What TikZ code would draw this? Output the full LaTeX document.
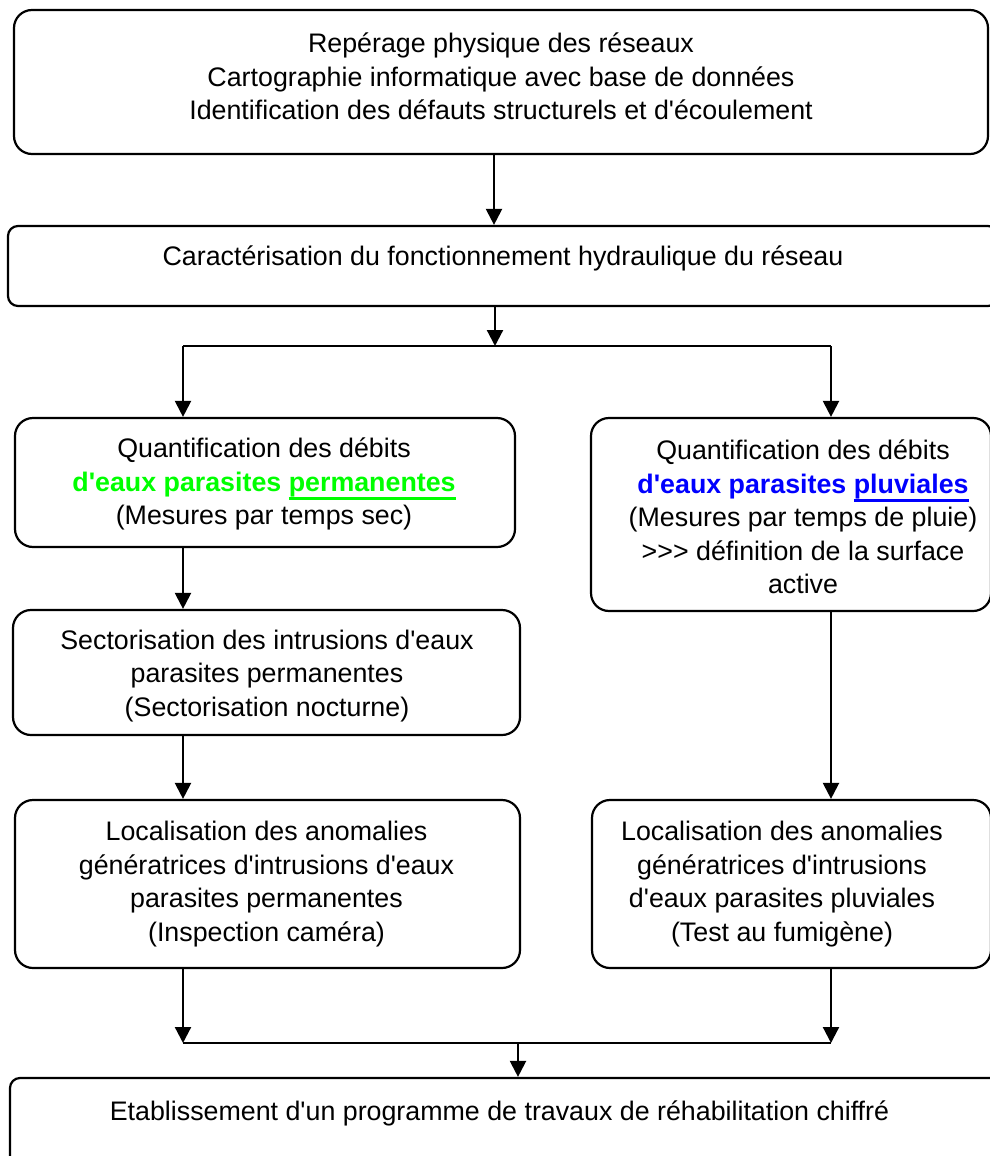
\documentclass[tikz,border=0pt]{standalone}
\usepackage{fontspec}
\setmainfont{Liberation Sans}
\usetikzlibrary{arrows.meta}
\definecolor{pgreen}{RGB}{0,255,0}
\definecolor{pblue}{RGB}{0,0,255}
\newcommand{\ap}{\textquotesingle}
\newcommand{\myul}[1]{\setbox0\hbox{#1}\rlap{\rule[-8.5pt]{\wd0}{2.4pt}}\box0}
\begin{document}
\begin{tikzpicture}[x=1pt,y=-1pt,
  box/.style={draw, line width=2.2pt, rounded corners=18pt, inner sep=0pt},
  sbox/.style={draw, line width=2.2pt, rounded corners=10pt, inner sep=0pt},
  txt/.style={align=center, font=\fontsize{26.8}{33.5}\selectfont, inner sep=0pt},
  arr/.style={line width=2.2pt, -{Triangle[length=16pt,width=16pt]}},
  ln/.style={line width=2.2pt}]
\useasboundingbox (0,0) rectangle (990,1156);
\clip (0,0) rectangle (990,1156);
% boxes
\node[box, minimum width=974pt, minimum height=144pt] (b1) at (501,82) {};
\node[sbox, minimum width=990pt, minimum height=80pt] (b2) at (503,266) {};
\node[box, minimum width=500pt, minimum height=129pt] (b3) at (265,482.5) {};
\node[box, minimum width=400pt, minimum height=193pt] (b4) at (791,514.5) {};
\node[box, minimum width=507pt, minimum height=125pt] (b5) at (266.5,672.5) {};
\node[box, minimum width=505pt, minimum height=168pt] (b6) at (267.5,884) {};
\node[box, minimum width=399pt, minimum height=168pt] (b7) at (791.5,884) {};
\node[sbox, minimum width=1000pt, minimum height=120pt] (b8) at (510,1138) {};
% texts
\node[txt] (t1) at (501,76.5) {Repérage physique des réseaux\\Cartographie informatique avec base de données\\Identification des défauts structurels et d\ap écoulement};
\node[txt] (t2) at (503,258) {Caractérisation du fonctionnement hydraulique du réseau};
\node[txt] (t3) at (264,484) {Quantification des débits\\{\color{pgreen}\bfseries d\ap eaux parasites \myul{permanentes}}\\(Mesures par temps sec)};
\node[txt] (t4) at (803,517) {Quantification des débits\\{\color{pblue}\bfseries d\ap eaux parasites \myul{pluviales}}\\(Mesures par temps de pluie)\\{>}{>}{>} définition de la surface\\active};
\node[txt] (t5) at (267,676) {Sectorisation des intrusions d\ap eaux\\parasites permanentes\\(Sectorisation nocturne)};
\node[txt] (t6) at (266.5,884) {Localisation des anomalies\\génératrices d\ap intrusions d\ap eaux\\parasites permanentes\\(Inspection caméra)};
\node[txt] (t7) at (782,884) {Localisation des anomalies\\génératrices d\ap intrusions\\d\ap eaux parasites pluviales\\(Test au fumigène)};
\node[txt] (t8) at (499.5,1113) {Etablissement d\ap un programme de travaux de réhabilitation chiffré};
% junction coordinates
\coordinate (xc) at (494,0);
\coordinate (s1) at (495,346);
\coordinate (sl) at (183,346);
\coordinate (sr) at (831,346);
\coordinate (ml) at (183,1043);
\coordinate (mr) at (831,1043);
\coordinate (mm) at (518,1043);
% connectors
\draw[arr] (b1.south -| xc) -- (b2.north -| xc);
\draw[arr] (b2.south -| s1) -- (s1);
\draw[ln] (sl) -- (sr);
\draw[arr] (sl) -- (b3.north -| sl);
\draw[arr] (sr) -- (b4.north -| sr);
\draw[arr] (b3.south -| sl) -- (b5.north -| sl);
\draw[arr] (b5.south -| sl) -- (b6.north -| sl);
\draw[arr] (b4.south -| sr) -- (b7.north -| sr);
\draw[arr] (b6.south -| ml) -- (ml);
\draw[arr] (b7.south -| mr) -- (mr);
\draw[ln] (ml) -- (mr);
\draw[arr] (mm) -- (b8.north -| mm);
\end{tikzpicture}
\end{document}
